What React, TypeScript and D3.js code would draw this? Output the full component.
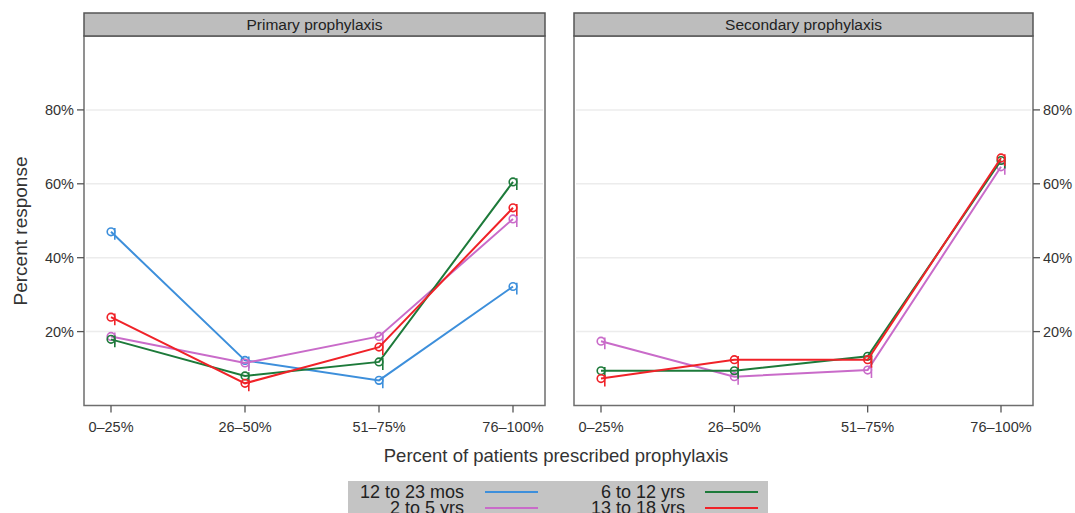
import React from "react";
import * as d3 from "d3";

// categories and tick labels
const categories = ["0\u201325%", "26\u201350%", "51\u201375%", "76\u2013100%"];
const yTicks = [20, 40, 60, 80];
const panels = ["Primary prophylaxis", "Secondary prophylaxis"];

// series names / colours
const seriesNames = ["12 to 23 mos", "2 to 5 yrs", "6 to 12 yrs", "13 to 18 yrs"];
const seriesColors = ["#3d8fdb", "#c96bc9", "#1d7a3a", "#f02228"];

// values (percent), primary prophylaxis
const primaryMos = [47, 12.2, 6.8, 32.2];
const primary2to5 = [18.7, 11.5, 18.7, 50.5];
const primary6to12 = [17.9, 8, 11.8, 60.5];
const primary13to18 = [23.9, 6, 15.8, 53.5];

// values (percent), secondary prophylaxis (no 12-23 mos group)
const secondaryMos: number[] | null = null;
const secondary2to5 = [17.4, 7.8, 9.6, 64.6];
const secondary6to12 = [9.4, 9.4, 13.3, 66.3];
const secondary13to18 = [7.3, 12.4, 12.4, 67];

const panelData = [
  [primaryMos, primary2to5, primary6to12, primary13to18],
  [secondaryMos, secondary2to5, secondary6to12, secondary13to18],
];

const W = 1075;
const H = 513;
const font = "'Liberation Sans', Arial, sans-serif";
const txt = "#333";

const panelX = [
  [84, 545],
  [574, 1033],
];
const top = 36;
const bottom = 405.5;
const headerTop = 13;

const y = d3.scaleLinear().domain([0, 100]).range([bottom, top]);

const Marker = ({ cx, cy, color }: { cx: number; cy: number; color: string }) => (
  <g fill="none" stroke={color} strokeWidth={1.6}>
    <circle cx={cx} cy={cy} r={3.8} />
    <line x1={cx + 3.8} y1={cy - 3.8} x2={cx + 3.8} y2={cy + 8} />
  </g>
);

const Panel = ({ idx }: { idx: number }) => {
  const [x0, x1] = panelX[idx];
  const x = d3
    .scalePoint<string>()
    .domain(categories)
    .range([x0 + 27, x1 - 32]);
  const line = d3
    .line<number>()
    .x((_, i) => x(categories[i]) as number)
    .y((d) => y(d));
  const rightAxis = idx === 1;
  return (
    <g>
      {yTicks.map((t) => (
        <line key={t} x1={x0 + 2} x2={x1 - 2} y1={y(t)} y2={y(t)} stroke="#ececec" strokeWidth={1.5} />
      ))}
      {panelData[idx].map((s, si) =>
        s ? (
          <g key={si}>
            <path d={line(s) || ""} fill="none" stroke={seriesColors[si]} strokeWidth={2} />
            {s.map((v, i) => (
              <Marker key={i} cx={x(categories[i]) as number} cy={y(v)} color={seriesColors[si]} />
            ))}
          </g>
        ) : null
      )}
      <rect x={x0} y={top} width={x1 - x0} height={bottom - top} fill="none" stroke="#6e6e6e" strokeWidth={1.5} />
      <rect x={x0} y={headerTop} width={x1 - x0} height={top - headerTop} fill="#bdbdbd" stroke="#555" strokeWidth={1.5} />
      <text x={(x0 + x1) / 2} y={(headerTop + top) / 2 + 5.5} textAnchor="middle" fontSize={15.5} fill="#222" fontFamily={font}>
        {panels[idx]}
      </text>
      {categories.map((c) => (
        <g key={c}>
          <line x1={x(c)} x2={x(c)} y1={bottom} y2={bottom + 7} stroke="#555" strokeWidth={1.3} />
          <text x={x(c)} y={bottom + 26} textAnchor="middle" fontSize={14.5} fill={txt} fontFamily={font}>
            {c}
          </text>
        </g>
      ))}
      {yTicks.map((t) =>
        rightAxis ? (
          <g key={t}>
            <line x1={x1} x2={x1 + 7} y1={y(t)} y2={y(t)} stroke="#555" strokeWidth={1.3} />
            <text x={x1 + 10} y={y(t) + 5} fontSize={14.5} fill={txt} fontFamily={font}>
              {t}%
            </text>
          </g>
        ) : (
          <g key={t}>
            <line x1={x0 - 7} x2={x0} y1={y(t)} y2={y(t)} stroke="#555" strokeWidth={1.3} />
            <text x={x0 - 10} y={y(t) + 5} textAnchor="end" fontSize={14.5} fill={txt} fontFamily={font}>
              {t}%
            </text>
          </g>
        )
      )}
    </g>
  );
};

const legendRows = [
  [0, 2],
  [1, 3],
];

export default function App() {
  return (
    <svg width={W} height={H} style={{ position: "absolute", left: 0, top: 0, background: "#fff" }}>
      <Panel idx={0} />
      <Panel idx={1} />
      <text
        transform={`translate(27, 231) rotate(-90)`}
        textAnchor="middle"
        fontSize={19}
        fill={txt}
        fontFamily={font}
      >
        Percent response
      </text>
      <text x={556} y={462} textAnchor="middle" fontSize={18.5} fill={txt} fontFamily={font}>
        Percent of patients prescribed prophylaxis
      </text>
      <rect x={348} y={481} width={420} height={40} fill="#c4c4c4" />
      {legendRows.map((row, ri) =>
        row.map((si, ci) => {
          const textEnd = ci === 0 ? 464 : 685;
          const lx = ci === 0 ? 485 : 705;
          const cy = 492 + ri * 16;
          return (
            <g key={si}>
              <text x={textEnd} y={cy + 6} textAnchor="end" fontSize={18} fill="#222" fontFamily={font}>
                {seriesNames[si]}
              </text>
              <line x1={lx} x2={lx + 53} y1={cy} y2={cy} stroke={seriesColors[si]} strokeWidth={2} />
            </g>
          );
        })
      )}
    </svg>
  );
}
